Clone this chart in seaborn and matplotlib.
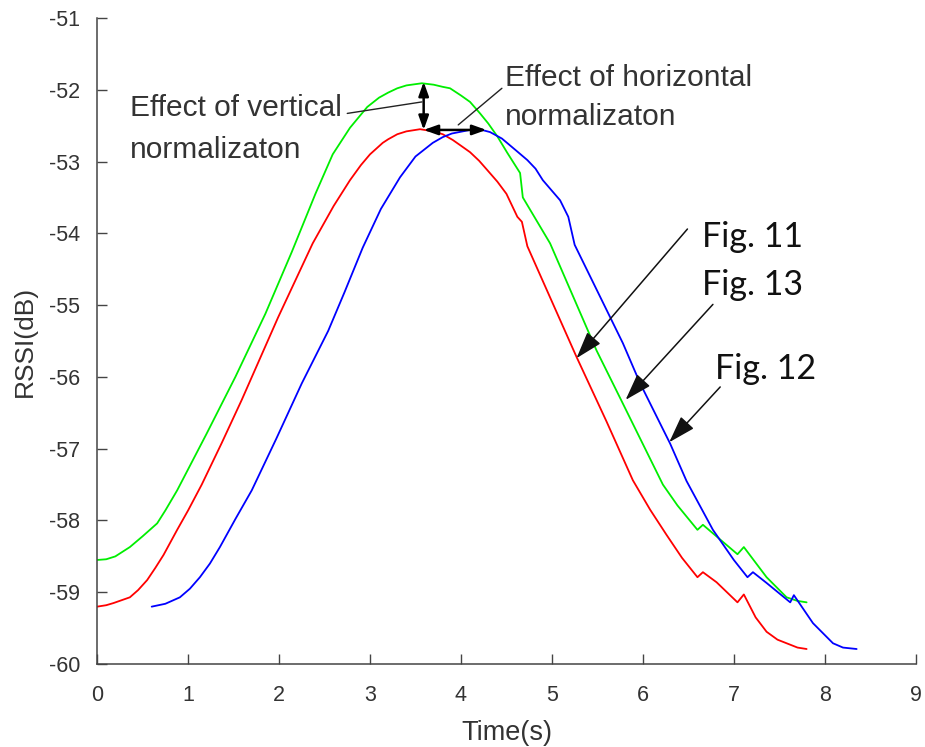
import matplotlib
matplotlib.use("Agg")
import matplotlib.pyplot as plt
import seaborn as sns
import pandas as pd

# ---- data ----
red_t = [0.00, 0.10, 0.18, 0.27, 0.36, 0.45, 0.55, 0.64, 0.73, 0.88, 1.00, 1.15, 1.37, 1.59,
         1.99, 2.37, 2.60, 2.78, 2.90, 3.00, 3.14, 3.20, 3.30, 3.40, 3.55, 3.70, 3.80, 3.91,
         4.00, 4.10, 4.20, 4.29, 4.40, 4.50, 4.62, 4.67, 4.73, 5.27, 5.60, 5.89, 6.08, 6.26,
         6.43, 6.60, 6.66, 6.81, 7.04, 7.11, 7.24, 7.36, 7.48, 7.60, 7.70, 7.80]
red_v = [-59.20, -59.18, -59.15, -59.11, -59.07, -58.97, -58.83, -58.66, -58.48, -58.13,
         -57.86, -57.50, -56.92, -56.32, -55.17, -54.14, -53.62, -53.26, -53.05, -52.90,
         -52.74, -52.69, -52.62, -52.58, -52.55, -52.58, -52.62, -52.70, -52.78, -52.87,
         -52.99, -53.12, -53.28, -53.45, -53.77, -53.84, -54.18, -55.72, -56.62, -57.44,
         -57.85, -58.20, -58.52, -58.79, -58.72, -58.86, -59.14, -59.03, -59.35, -59.55,
         -59.66, -59.72, -59.77, -59.79]

green_t = [0.00, 0.10, 0.20, 0.36, 0.50, 0.66, 0.75, 0.88, 1.20, 1.52, 1.85, 2.14, 2.40,
           2.59, 2.78, 2.97, 3.10, 3.20, 3.30, 3.40, 3.57, 3.70, 3.80, 3.88, 4.00, 4.10,
           4.21, 4.30, 4.40, 4.51, 4.65, 4.68, 4.98, 5.49, 5.76, 6.22, 6.38, 6.60, 6.66,
           7.04, 7.11, 7.36, 7.58, 7.70, 7.80]
green_v = [-58.55, -58.54, -58.50, -58.37, -58.22, -58.04, -57.86, -57.58, -56.80, -56.00,
           -55.12, -54.26, -53.45, -52.90, -52.53, -52.24, -52.11, -52.04, -51.98, -51.94,
           -51.91, -51.93, -51.96, -51.98, -52.08, -52.17, -52.33, -52.47, -52.65, -52.88,
           -53.16, -53.50, -54.14, -55.63, -56.32, -57.50, -57.79, -58.13, -58.06, -58.47,
           -58.37, -58.79, -59.07, -59.12, -59.14]

blue_t = [0.60, 0.75, 0.91, 1.02, 1.13, 1.24, 1.35, 1.52, 1.70, 1.97, 2.25, 2.54, 2.72,
          2.92, 3.12, 3.33, 3.50, 3.69, 3.80, 3.90, 4.02, 4.10, 4.20, 4.32, 4.45, 4.60,
          4.73, 4.82, 4.90, 5.09, 5.18, 5.25, 5.78, 5.97, 6.30, 6.48, 6.77, 7.00, 7.15,
          7.21, 7.36, 7.62, 7.66, 7.87, 8.09, 8.20, 8.35]
blue_v = [-59.20, -59.16, -59.07, -58.95, -58.79, -58.60, -58.37, -57.98, -57.58, -56.86,
          -56.09, -55.36, -54.82, -54.20, -53.66, -53.22, -52.93, -52.74, -52.66, -52.61,
          -52.58, -52.56, -52.55, -52.59, -52.68, -52.84, -52.98, -53.10, -53.26, -53.54,
          -53.77, -54.16, -55.53, -56.09, -56.93, -57.45, -58.13, -58.55, -58.79, -58.72,
          -58.87, -59.14, -59.04, -59.43, -59.71, -59.77, -59.79]

x_ticks = [0, 1, 2, 3, 4, 5, 6, 7, 8, 9]
y_ticks = [-60, -59, -58, -57, -56, -55, -54, -53, -52, -51]

# ---- style ----
sns.set_theme(style="ticks")
plt.rcParams["font.family"] = ["Liberation Sans", "DejaVu Sans"]
axis_col = "#444444"
text_col = "#333333"

fig = plt.figure(figsize=(9.25, 7.47), dpi=100)
ax = fig.add_axes([0.105, 0.111, 0.885, 0.865])

for t, v, c in [(red_t, red_v, "#ff0000"), (green_t, green_v, "#00ee00"), (blue_t, blue_v, "#0000ff")]:
    df = pd.DataFrame({"t": t, "v": v})
    sns.lineplot(data=df, x="t", y="v", sort=False, color=c, lw=1.3, ax=ax, estimator=None)

ax.set_xlim(0, 9)
ax.set_ylim(-60, -51)
ax.set_xticks(x_ticks)
ax.set_yticks(y_ticks)
ax.set_xticklabels([str(v) for v in x_ticks])
ax.set_yticklabels([str(v) for v in y_ticks])
ax.tick_params(direction="in", length=7, width=1, colors=axis_col, labelcolor=text_col,
               labelsize=15.5)
ax.tick_params(axis="x", pad=15)
ax.tick_params(axis="y", pad=12)
for s in ["top", "right"]:
    ax.spines[s].set_visible(False)
for s in ["left", "bottom"]:
    ax.spines[s].set_color(axis_col)
    ax.spines[s].set_linewidth(1.1)
ax.set_xlabel("Time(s)", fontsize=19.5, color=text_col, labelpad=10)
ax.set_ylabel("RSSI(dB)", fontsize=19, color=text_col, labelpad=9)

# ---- annotations ----
ann_font = dict(fontsize=21.5, color=text_col)
bk = "black"
# vertical normalization double arrow
ax.annotate("", xy=(3.59, -51.89), xytext=(3.59, -52.56),
            arrowprops=dict(arrowstyle="<|-|>,head_length=0.7,head_width=0.25", color=bk, lw=1.8,
                            shrinkA=0, shrinkB=0))
# horizontal normalization double arrow
ax.annotate("", xy=(4.28, -52.56), xytext=(3.59, -52.56),
            arrowprops=dict(arrowstyle="<|-|>,head_length=0.7,head_width=0.25", color=bk, lw=1.8,
                            shrinkA=0, shrinkB=0))
# leader lines
ax.plot([2.75, 3.57], [-52.33, -52.17], color="#222222", lw=1.0)
ax.plot([3.97, 4.45], [-52.49, -51.98], color="#222222", lw=1.0)
ax.text(0.36, -52.26, "Effect of vertical", va="center", ha="left", **ann_font)
ax.text(0.36, -52.84, "normalizaton", va="center", ha="left", **ann_font)
ax.text(4.48, -51.84, "Effect of horizontal", va="center", ha="left", **ann_font)
ax.text(4.48, -52.38, "normalizaton", va="center", ha="left", **ann_font)

# figure-number callouts
fig_font = dict(fontsize=24.5, color="#111111", family=["Lato", "DejaVu Sans"])
ax.text(6.65, -54.19, "Fig. 11", ha="left", va="baseline", **fig_font)
ax.text(6.65, -54.86, "Fig. 13", ha="left", va="baseline", **fig_font)
ax.text(6.79, -56.03, "Fig. 12", ha="left", va="baseline", **fig_font)
arrow_kw = dict(arrowstyle="-|>,head_length=1.4,head_width=0.45", color="#111111", lw=1.1,
                shrinkA=0, shrinkB=0)
ax.annotate("", xy=(5.27, -55.74), xytext=(6.49, -53.94), arrowprops=arrow_kw)
ax.annotate("", xy=(5.81, -56.32), xytext=(6.77, -54.99), arrowprops=arrow_kw)
ax.annotate("", xy=(6.29, -56.91), xytext=(6.85, -56.14), arrowprops=arrow_kw)

fig.savefig("out.png", dpi=100, facecolor="white")
